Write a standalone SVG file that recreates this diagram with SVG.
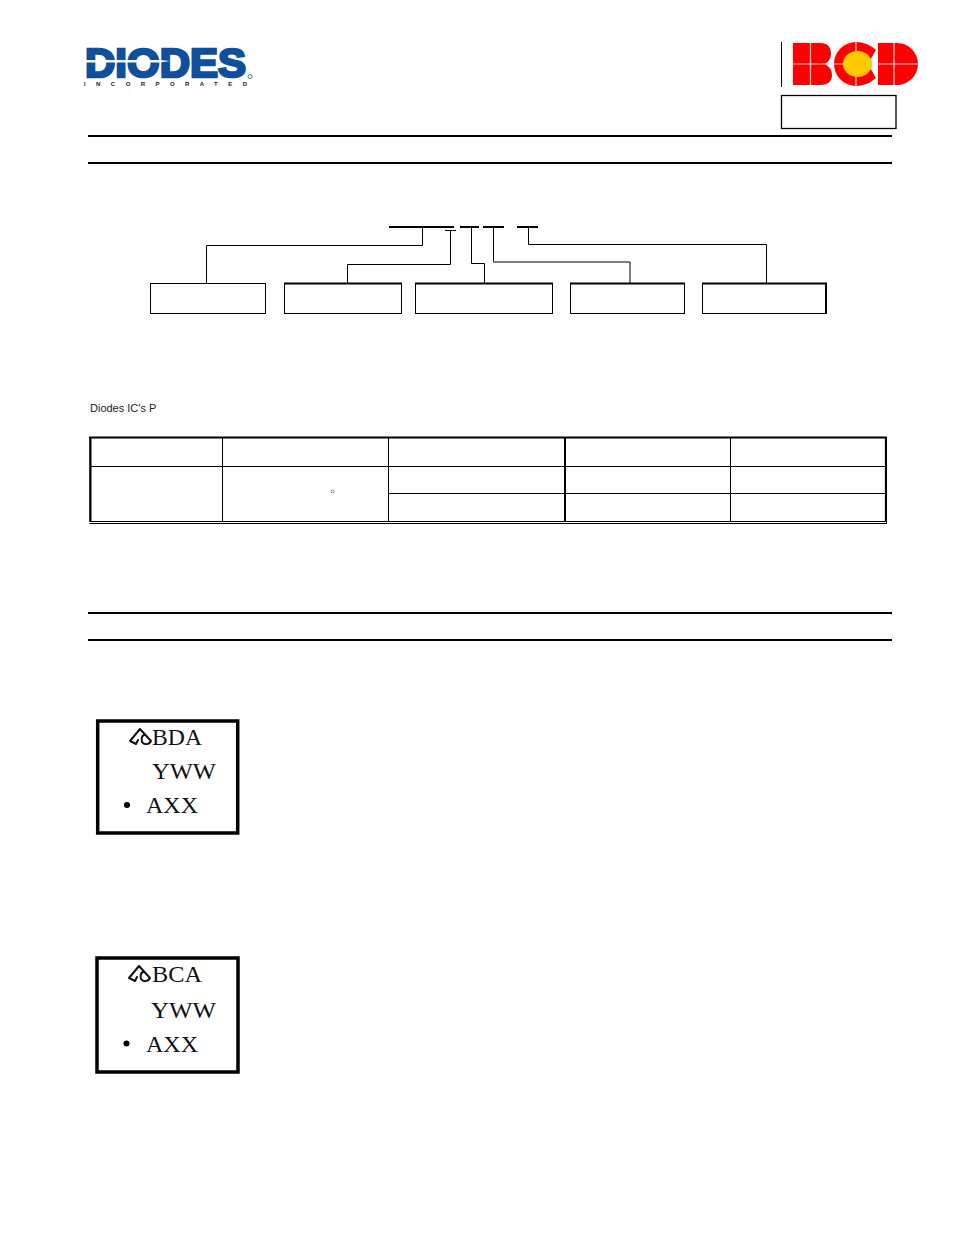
<svg xmlns="http://www.w3.org/2000/svg" width="954" height="1235" viewBox="0 0 954 1235">
<style>
.rule{stroke:#000;stroke-width:2;fill:none}
.box{fill:#fff;stroke:#000;stroke-width:1}
.top{stroke:#000;stroke-width:2;fill:none}
.conn{stroke:#000;stroke-width:1;fill:none}
.tb{stroke:#000;stroke-width:1;fill:none}
.mark{font-family:"Liberation Serif","Times New Roman",serif;font-size:24px;fill:#111}
.mbox{fill:#fff;stroke:#000;stroke-width:3.5}
.icon{fill:none;stroke:#111;stroke-width:2;stroke-linejoin:round;stroke-linecap:round}
.red{fill:#f00}
.cut{stroke:#f4d8d8;stroke-width:1.2;fill:none}
</style>
<rect width="954" height="1235" fill="#fff"/>
<g id="logo-diodes">
<text x="85" y="76.500" font-family="Liberation Sans,Arial,sans-serif" font-weight="700" font-size="41" fill="#0f4f9c" stroke="#0f4f9c" stroke-width="2.600" stroke-linejoin="miter" textLength="161" lengthAdjust="spacingAndGlyphs">DIODES</text>
<path d="M84 60H160L170 61L160 62.500H84Z" fill="#fff"/>
<text x="84" y="86" font-family="Liberation Sans,Arial,sans-serif" font-weight="700" font-size="6" fill="#222" textLength="163">INCORPORATED</text>
<circle cx="250" cy="76.500" r="2" fill="none" stroke="#0f4f9c" stroke-width="0.8"/>
</g>
<g id="logo-bcd">
<path d="M781.500 42V87" class="conn"/>
<path class="red" d="M793 43H820Q831 43 831 54Q831 60 825 64Q832 68 832 75Q832 85 820 85H793Z"/>
<path class="red" d="M876 50Q867 42 856 42A22 22 0 0 0 856 86Q867 86 876 78L868 64Z"/>
<ellipse cx="857.500" cy="64" rx="14.500" ry="13" fill="#ffc800"/>
<path class="red" d="M878 43H897A21 21 0 0 1 897 85H878Z"/>
<path class="cut" d="M793 64H832M810.500 43V85M834 64H843M856 42V51M856 77V86M878 64H918M894 43V85"/>
</g>
<g id="doc-box"><rect x="781.500" y="95.500" width="114.500" height="33" fill="#fff" stroke="#000" stroke-width="1.300"/></g>
<g id="section-rules">
<path class="rule" d="M88 136H892M88 163H892M88 613H892M88 640H892"/>
</g>
<g id="part-number">
<path class="top" d="M389 227H454M460 227H479M483 227H504M517 227H538"/>
<path class="conn" d="M445 230.500H456"/>
</g>
<g id="connectors">
<path class="conn" d="M422.500 227V245.500H206.500V283"/>
<path class="conn" d="M450.500 230V264.500H347.500V283"/>
<path class="conn" d="M471.500 227V263.500H484.500V283"/>
<path class="conn" d="M493.500 227V261.500"/>
<path class="conn" d="M493 262H630V283" stroke-width="2"/>
<path class="conn" d="M528.500 227V244.500H766.500V283"/>
</g>
<g id="box-1"><rect class="box" x="150.500" y="283.500" width="115" height="30"/></g>
<g id="box-2"><rect class="box" x="284.500" y="283.500" width="117" height="30"/><path class="top" d="M284 283.500H402"/></g>
<g id="box-3"><rect class="box" x="415.500" y="283.500" width="137" height="30"/><path class="top" d="M415 283.500H553"/></g>
<g id="box-4"><rect class="box" x="570.500" y="283.500" width="114" height="30"/><path class="top" d="M570 283.500H685"/></g>
<g id="box-5"><rect class="box" x="702.500" y="283.500" width="124" height="30"/><path class="top" d="M702 283.500H827M826 283V314"/></g>
<g id="caption"><text x="90" y="412" font-family="Liberation Sans,Arial,sans-serif" font-size="11" fill="#222">Diodes IC's P</text></g>
<g id="ordering-table">
<path class="tb" d="M89.500 523.500H886.500V437.500"/>
<path d="M90 437.500H885.500V521.500H90Z" fill="none" stroke="#000" stroke-width="1.200"/>
<path d="M90.500 437V522M89 437.500H887" fill="none" stroke="#000" stroke-width="2"/>
<path class="tb" d="M222.500 437V521M388.500 437V521M730.500 437V521M90 466.500H885M388 493.500H885"/>
<path d="M565 437V521" fill="none" stroke="#000" stroke-width="2"/>
<circle cx="332.500" cy="491.500" r="1.500" fill="#fff" stroke="#666" stroke-width="0.800"/>
</g>
<g id="marking-1">
<rect class="mbox" x="97.700" y="721" width="140" height="112"/>
<path class="icon" stroke-width="2.300" d="M130 741L140 729L151 741C149 745 144 745 142 742C141 738 142 736 144 735M130 741L136 744L138 740"/>
<text class="mark" x="152" y="745" textLength="50" lengthAdjust="spacingAndGlyphs">BDA</text>
<text class="mark" x="152" y="779" textLength="64" lengthAdjust="spacingAndGlyphs">YWW</text>
<circle cx="127" cy="805" r="3" fill="#000"/>
<text class="mark" x="146" y="813" textLength="52" lengthAdjust="spacingAndGlyphs">AXX</text>
</g>
<g id="marking-2">
<rect class="mbox" x="97" y="958" width="141" height="114"/>
<path class="icon" stroke-width="1.600" d="M129 978L139 966L150 978C148 982 143 982 141 979C140 975 141 973 143 972M129 978L135 981L137 977"/>
<text class="mark" x="152" y="982" textLength="50" lengthAdjust="spacingAndGlyphs">BCA</text>
<text class="mark" x="151" y="1018" textLength="65" lengthAdjust="spacingAndGlyphs">YWW</text>
<circle cx="126.500" cy="1043.500" r="3" fill="#000"/>
<text class="mark" x="146" y="1052" textLength="52" lengthAdjust="spacingAndGlyphs">AXX</text>
</g>
</svg>
